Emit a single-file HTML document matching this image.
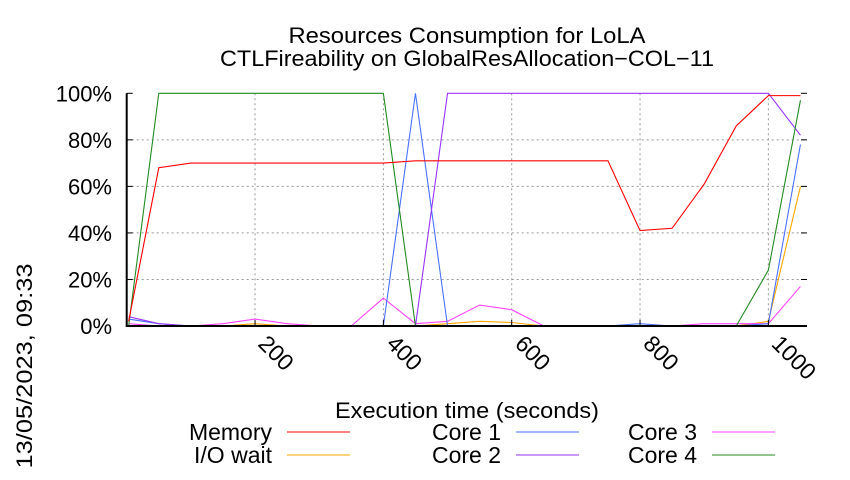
<!DOCTYPE html>
<html><head><meta charset="utf-8"><style>
body{margin:0;background:#fff;}
svg text{font-family:"Liberation Sans",sans-serif;fill:#000;}
</style></head><body>
<svg width="850" height="475" xmlns="http://www.w3.org/2000/svg">
<rect width="850" height="475" fill="#fff"/>
<g id="grid"></g>
<g id="series"></g>
<g id="axes"></g>
<text x="467" y="43" font-size="22" text-anchor="middle" textLength="357" lengthAdjust="spacingAndGlyphs">Resources Consumption for LoLA</text>
<text x="467" y="66" font-size="22" text-anchor="middle" textLength="494" lengthAdjust="spacingAndGlyphs">CTLFireability on GlobalResAllocation−COL−11</text>
<text x="467" y="418" font-size="22" text-anchor="middle" textLength="264" lengthAdjust="spacingAndGlyphs">Execution time (seconds)</text>
<text transform="translate(32,366) rotate(-90)" font-size="22" text-anchor="middle" textLength="205" lengthAdjust="spacingAndGlyphs">13/05/2023, 09:33</text>
<g id="legend"></g>
</svg>
<script>
const times=[3,50,100,150,200,250,300,350,400,450,500,550,600,650,700,750,800,850,900,950,1000,1050];
const memory=[2,68,70,70,70,70,70,70,70,71,71,71,71,71,71,71,41,42,61,86,99,99];
const core1=[3,1,0,0,0,0,0,0,0,100,0,0,0,0,0,0,1,0,0,0,1,78];
const core2=[4,1,0,0,0,0,0,0,0,0,100,100,100,100,100,100,100,100,100,100,100,82];
const core3=[1,0,0,1,3,1,0,0,12,1,2,9,7,0,0,0,0,0,1,1,1,17];
const core4=[0,100,100,100,100,100,100,100,100,0,0,0,0,0,0,0,0,0,0,0,24,97];
const iowait=[0,0,0,0,1,0,0,0,0,0,1,2,1.5,0,0,0,0,0,0,0,2,60];
const xTicks=[200,400,600,800,1000];
const yTicks=[0,20,40,60,80,100];
const NS="http://www.w3.org/2000/svg";
const X0=126.7,X1=807,XMAX=(807-126.7)/0.64167,Y0=326,Y1=93.3;
function sx(v){return X0+v/XMAX*(X1-X0);}
function sy(v){return Y0-v/100*(Y0-Y1);}
function mk(p,tag,a){const e=document.createElementNS(NS,tag);for(const k in a)e.setAttribute(k,a[k]);p.appendChild(e);return e;}
const grid=document.getElementById('grid'),axes=document.getElementById('axes'),ser=document.getElementById('series'),leg=document.getElementById('legend');
yTicks.forEach(t=>{
 if(t>0&&t<100){const l=mk(grid,'line',{x1:X0,x2:X1,y1:sy(t),y2:sy(t),stroke:'#999','stroke-dasharray':'2,3','stroke-width':1});
 
 }
 const tk=mk(axes,'line',{x1:X0,x2:X0+6,y1:sy(t),y2:sy(t),stroke:'#000'});
 
 
 const tk2=mk(axes,'line',{x1:X1-6,x2:X1,y1:sy(t),y2:sy(t),stroke:'#000'});
 
 
 const tx=mk(axes,'text',{x:112,y:sy(t)+8,'font-size':22,'text-anchor':'end'});tx.textContent=t+'%';
 
 
});
xTicks.forEach(t=>{
 const l=mk(grid,'line',{x1:sx(t),x2:sx(t),y1:Y1,y2:Y0,stroke:'#999','stroke-dasharray':'2,3','stroke-width':1});
 
 
 const tk=mk(axes,'line',{x1:sx(t),x2:sx(t),y1:Y0,y2:Y0-6,stroke:'#000'});
 
 
 const tx=mk(axes,'text',{transform:`translate(${sx(t)+2},${Y0+19}) rotate(45)`,'font-size':23});tx.textContent=t;
 
 
});
const frame=mk(axes,'path',{d:`M${X0},${Y1}V${Y0}H${X1}`,stroke:'#000','stroke-width':2,fill:'none'});


const series=[['Memory',memory,'#ff0000'],['Core 1',core1,'#4a72ff'],['Core 3',core3,'#ff44ff'],['I/O wait',iowait,'#ffa500'],['Core 2',core2,'#9933ff'],['Core 4',core4,'#228b22']];
const drawOrder=[3,2,1,4,5,0];
drawOrder.forEach(i=>{const [n,d,c]=series[i];
 const p=mk(ser,'polyline',{points:d.map((v,j)=>sx(times[j])+','+sy(v)).join(' '),fill:'none',stroke:c,'stroke-width':1.1});
 
 
});
const lx=[272,501,697],ly=[432,455];
series.forEach(([n,d,c],i)=>{const col=i%3,row=Math.floor(i/3);
 const t=mk(leg,'text',{x:lx[col],y:ly[row]+8,'font-size':23,'text-anchor':'end'});t.textContent=n;
 
 
 const l=mk(leg,'line',{x1:lx[col]+15,x2:lx[col]+78,y1:ly[row],y2:ly[row],stroke:c,'stroke-width':1.1});
 
 
});
</script>
</body></html>
